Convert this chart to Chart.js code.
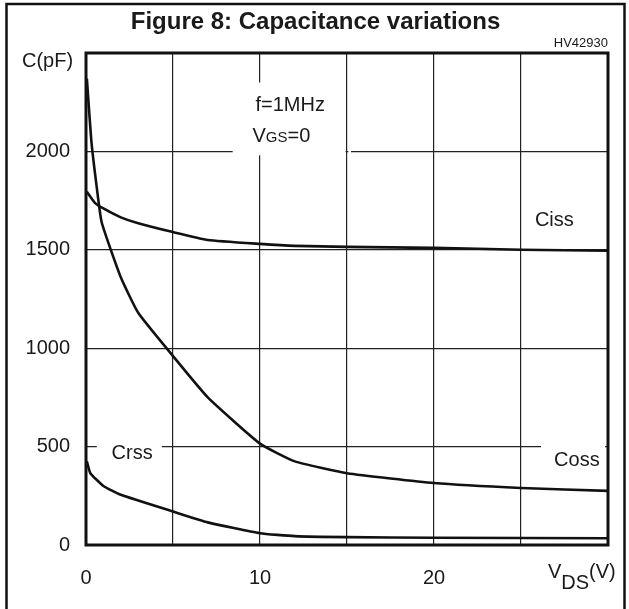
<!DOCTYPE html>
<html>
<head>
<meta charset="utf-8">
<script src="https://cdn.jsdelivr.net/npm/chart.js@4/dist/chart.umd.min.js"></script>
<style>
html,body{margin:0;padding:0;background:#fff;}
</style>
</head>
<body>
<canvas id="cap-chart" width="629" height="609"></canvas>
<script>
// Ciss / Coss / Crss vs VDS
const cissV = [0.05, 0.5, 1, 2, 3, 5, 7, 10, 12, 15, 20, 25, 30];
const cissC = [1795, 1740, 1710, 1665, 1635, 1590, 1550, 1530, 1520, 1515, 1510, 1500, 1495];

const cossV = [0.05, 0.3, 0.6, 0.9, 2, 3, 5, 7, 10, 12, 15, 20, 25, 30];
const cossC = [2370, 2060, 1830, 1640, 1360, 1180, 960, 750, 515, 425, 365, 315, 290, 275];

const crssV = [0.05, 0.25, 1, 2, 5, 7, 10, 12, 15, 20, 30];
const crssC = [425, 365, 300, 255, 170, 115, 60, 45, 40, 37, 34];

const xTickLabels = [0, 10, 20];
const yTickLabels = [0, 500, 1000, 1500, 2000];

const FONT = "'Liberation Sans', Arial, Helvetica, sans-serif";
const INK = "#1a1a1a";

function pts(xs, ys) {
  return xs.map((v, i) => ({x: v, y: ys[i]}));
}

function curve(label, xs, ys) {
  return {
    label: label,
    data: pts(xs, ys),
    borderColor: "#111",
    borderWidth: 2.6,
    pointRadius: 0,
    fill: false,
    tension: 0.15
  };
}

// draw a string made of pieces with their own size / vertical shift
function drawParts(ctx, x, y, parts) {
  ctx.textBaseline = "middle";
  ctx.textAlign = "left";
  parts.forEach(p => {
    ctx.font = p[1] + "px " + FONT;
    ctx.fillText(p[0], x, y + (p[2] || 0));
    x += ctx.measureText(p[0]).width;
  });
}

const decorPlugin = {
  id: "decor",
  beforeDatasetsDraw(chart) {
    const ctx = chart.ctx, xs = chart.scales.x, ys = chart.scales.y;
    ctx.save();
    ctx.fillStyle = "#fff";
    // gaps in the grid behind the labels
    const hGap = (val, a, b) => {
      const py = ys.getPixelForValue(val);
      const xa = xs.getPixelForValue(a), xb = xs.getPixelForValue(b);
      ctx.fillRect(xa, py - 2, xb - xa, 4);
    };
    const vGap = (val, a, b) => {
      const px = xs.getPixelForValue(val);
      const ya = ys.getPixelForValue(a), yb = ys.getPixelForValue(b);
      ctx.fillRect(px - 2, ya, 4, yb - ya);
    };
    vGap(10, 2350, 1980);
    hGap(2000, 8.43, 14.92);
    hGap(2000, 15.08, 15.23);
    hGap(500, 0.62, 4.36);
    hGap(500, 26.15, 29.83);
    ctx.restore();
  },
  afterDatasetsDraw(chart) {
    const ctx = chart.ctx, a = chart.chartArea, xs = chart.scales.x, ys = chart.scales.y;
    ctx.save();
    // plot frame
    ctx.strokeStyle = "#111";
    ctx.lineWidth = 3;
    ctx.strokeRect(a.left, a.top, a.right - a.left, a.bottom - a.top);
    // outer figure frame
    ctx.lineWidth = 2.5;
    ctx.strokeRect(6.5, 4, 618, 620);

    ctx.fillStyle = INK;
    // title
    ctx.font = "bold 24px " + FONT;
    ctx.textAlign = "center";
    ctx.textBaseline = "middle";
    ctx.fillText("Figure 8: Capacitance variations", 315.5, 22);
    // figure id
    ctx.font = "13px " + FONT;
    ctx.textAlign = "right";
    ctx.fillText("HV42930", a.right, 43);
    // axis titles
    drawParts(ctx, 22, 61, [["C(pF)", 20]]);
    drawParts(ctx, 548, 572, [["V", 20], ["DS", 20, 11], ["(V)", 20]]);

    // curve / condition labels
    const at = (v, c) => [xs.getPixelForValue(v), ys.getPixelForValue(c)];
    let p = at(9.74, 2233);
    drawParts(ctx, p[0], p[1], [["f=1MHz", 20]]);
    p = at(9.57, 2076);
    drawParts(ctx, p[0], p[1], [["V", 20], ["GS", 15, 1.5], ["=0", 20]]);
    p = at(25.8, 1650);
    drawParts(ctx, p[0], p[1], [["Ciss", 20]]);
    p = at(1.47, 467);
    drawParts(ctx, p[0], p[1], [["Crss", 20]]);
    p = at(26.9, 431);
    drawParts(ctx, p[0], p[1], [["Coss", 20]]);
    ctx.restore();
  }
};

const ctxCap = document.querySelector("#cap-chart").getContext("2d");

const capChart = new Chart(ctxCap, {
  type: "line",
  data: {
    datasets: [
      curve("Ciss", cissV, cissC),
      curve("Coss", cossV, cossC),
      curve("Crss", crssV, crssC)
    ]
  },
  options: {
    responsive: false,
    devicePixelRatio: 1,
    animation: false,
    layout: {padding: {top: 53, right: 13, left: 0, bottom: 0}},
    plugins: {
      legend: {display: false},
      tooltip: {enabled: false},
      title: {display: false}
    },
    scales: {
      x: {
        type: "linear",
        min: 0,
        max: 30,
        afterFit(scale) { scale.height = 64; },
        border: {display: false},
        grid: {color: "#222", lineWidth: 1.2, drawTicks: false},
        ticks: {
          stepSize: 5,
          autoSkip: false,
          maxRotation: 0,
          padding: 21,
          color: INK,
          font: {family: FONT, size: 20},
          callback: v => xTickLabels.includes(v) ? String(v) : ""
        }
      },
      y: {
        type: "linear",
        min: 0,
        max: 2500,
        afterFit(scale) { scale.width = 86; },
        border: {display: false},
        grid: {color: "#222", lineWidth: 1.2, drawTicks: false},
        ticks: {
          stepSize: 500,
          padding: 16,
          color: INK,
          font: {family: FONT, size: 20},
          callback: v => yTickLabels.includes(v) ? String(v) : ""
        }
      }
    }
  },
  plugins: [decorPlugin]
});
</script>
</body>
</html>
